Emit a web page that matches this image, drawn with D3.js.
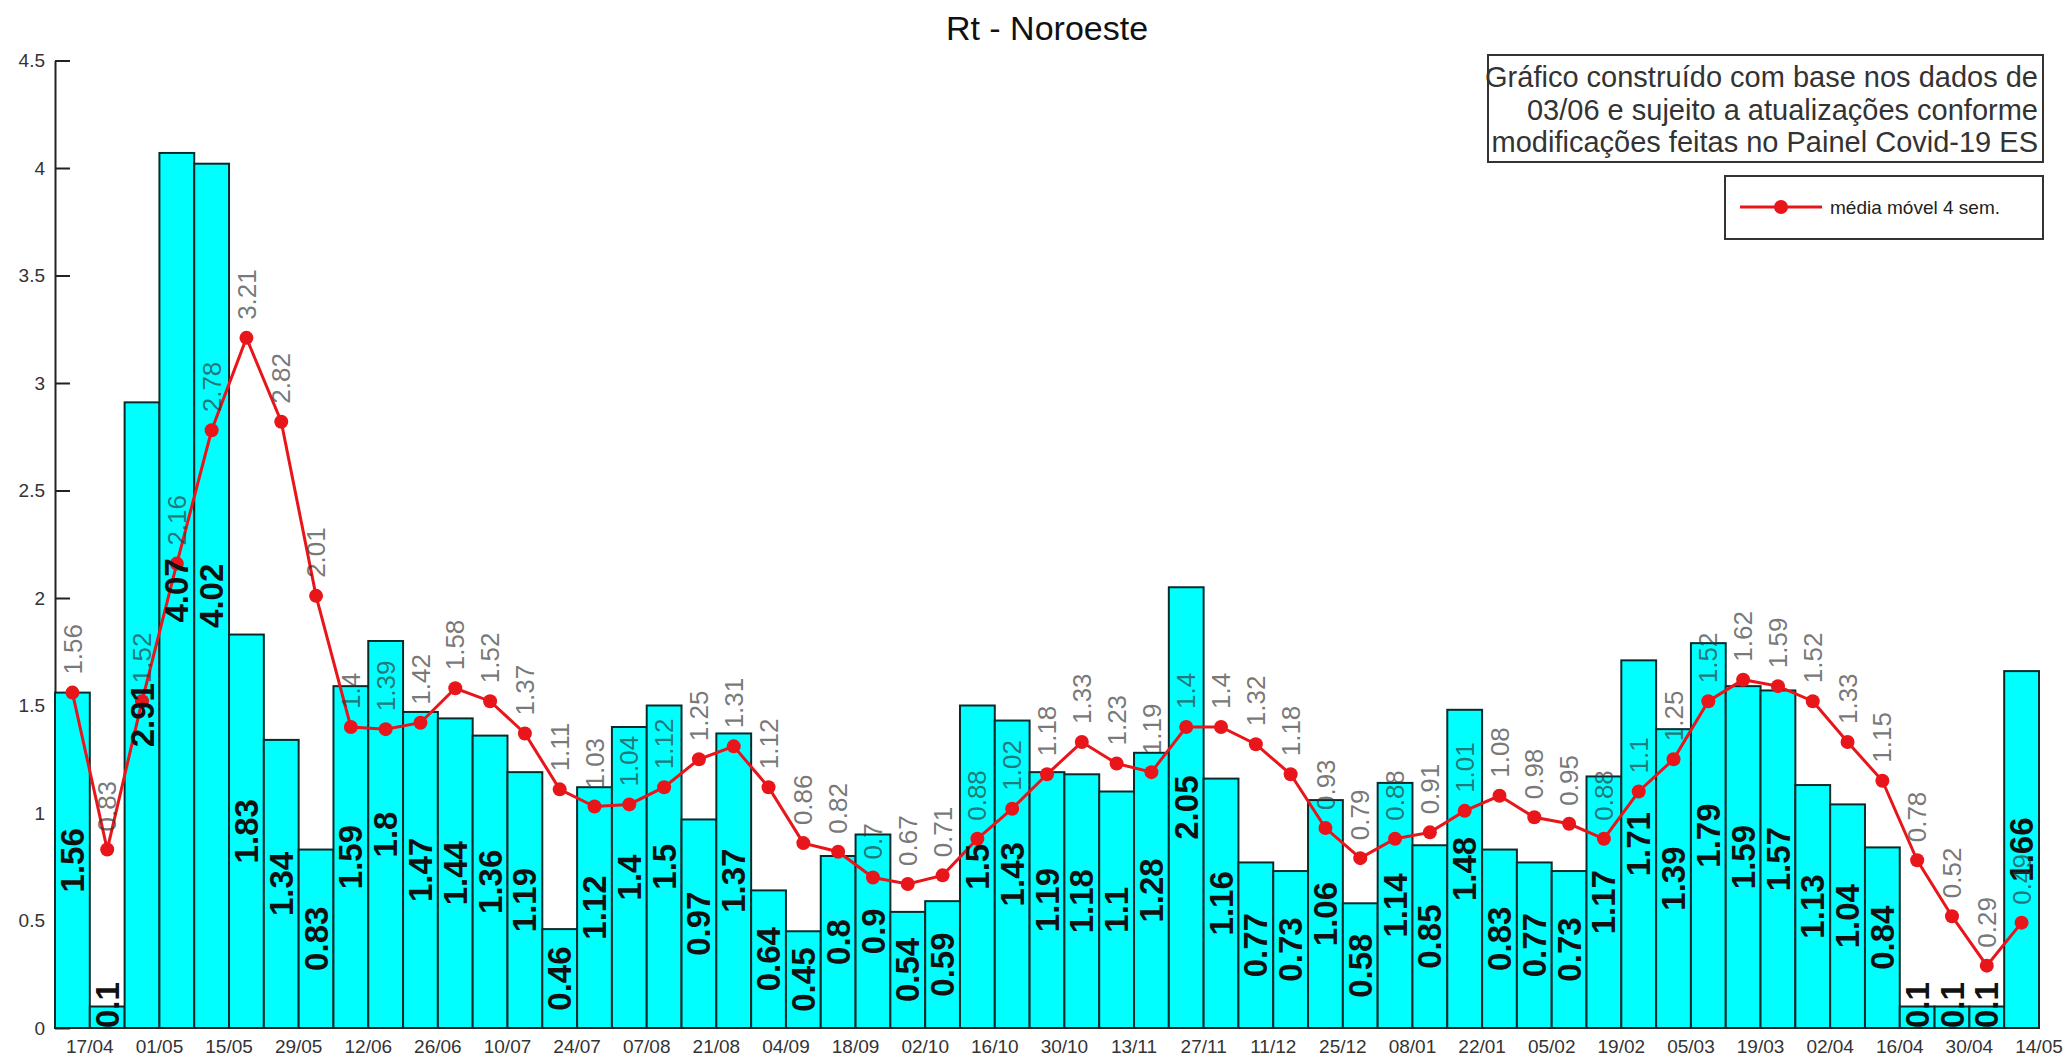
<!DOCTYPE html>
<html>
<head>
<meta charset="utf-8">
<style>
  body { margin: 0; background: #fff; }
  svg { display: block; font-family: "Liberation Sans", Arial, sans-serif; }
  .tick line { stroke: #222; stroke-width: 2px; }
  .yaxis .domain { stroke: #222; stroke-width: 2px; }
  .tick text { fill: #333; font-size: 19px; }
  .bar { fill: #00ffff; stroke: #0b2b2b; stroke-width: 2px; }
  .rline { fill: none; stroke: #e8161a; stroke-width: 3px; }
  .dot { fill: #e8161a; }
  .barlab { font-size: 33px; font-weight: bold; fill: #111; }
  .linelab { font-size: 26px; fill: #333; fill-opacity: 0.68; }
</style>
<script src="https://cdn.jsdelivr.net/npm/d3@7"></script>
</head>
<body>
<script>
// weeks (one bar per week)
var weeks = ["17/04","24/04","01/05","08/05","15/05","22/05","29/05","05/06","12/06","19/06",
  "26/06","03/07","10/07","17/07","24/07","31/07","07/08","14/08","21/08","28/08",
  "04/09","11/09","18/09","25/09","02/10","09/10","16/10","23/10","30/10","06/11",
  "13/11","20/11","27/11","04/12","11/12","18/12","25/12","01/01","08/01","15/01",
  "22/01","29/01","05/02","12/02","19/02","26/02","05/03","12/03","19/03","26/03",
  "02/04","09/04","16/04","23/04","30/04","07/05","14/05"];

// weekly Rt
var rt = [1.56,0.1,2.91,4.07,4.02,1.83,1.34,0.83,1.59,1.8,
  1.47,1.44,1.36,1.19,0.46,1.12,1.4,1.5,0.97,1.37,
  0.64,0.45,0.8,0.9,0.54,0.59,1.5,1.43,1.19,1.18,
  1.1,1.28,2.05,1.16,0.77,0.73,1.06,0.58,1.14,0.85,
  1.48,0.83,0.77,0.73,1.17,1.71,1.39,1.79,1.59,1.57,
  1.13,1.04,0.84,0.1,0.1,0.1,1.66];

// media movel 4 semanas
var media = [1.56,0.83,1.52,2.16,2.78,3.21,2.82,2.01,1.4,1.39,
  1.42,1.58,1.52,1.37,1.11,1.03,1.04,1.12,1.25,1.31,
  1.12,0.86,0.82,0.7,0.67,0.71,0.88,1.02,1.18,1.33,
  1.23,1.19,1.4,1.4,1.32,1.18,0.93,0.79,0.88,0.91,
  1.01,1.08,0.98,0.95,0.88,1.1,1.25,1.52,1.62,1.59,
  1.52,1.33,1.15,0.78,0.52,0.29,0.49];

var xLabels = weeks.filter(function(d, i) { return i % 2 === 0; });
var yTicks = [0,0.5,1,1.5,2,2.5,3,3.5,4,4.5];
var noteLines = ["Gráfico construído com base nos dados de",
  "03/06 e sujeito a atualizações conforme",
  "modificações feitas no Painel Covid-19 ES"];

var W = 2066, H = 1057;
var mLeft = 55, mRight = 2039, mTop = 60.5, mBottom = 1028;

var svg = d3.select("body").append("svg")
  .attr("width", W).attr("height", H);

var x = d3.scaleBand().domain(weeks).range([mLeft, mRight]).padding(0);
var y = d3.scaleLinear().domain([0, 4.5]).range([mBottom, mTop]);
var bw = x.bandwidth();

// title
svg.append("text")
  .attr("x", (mLeft + mRight) / 2).attr("y", 40)
  .attr("text-anchor", "middle")
  .style("font-size", "34px").style("fill", "#111")
  .text("Rt - Noroeste");

// y axis, ticks pointing inward
svg.append("g")
  .attr("class", "yaxis")
  .attr("transform", "translate(" + mLeft + ",0)")
  .call(d3.axisLeft(y).tickValues(yTicks).tickSizeInner(-15).tickSizeOuter(0)
    .tickPadding(10).tickFormat(function(d) { return String(d); }));

// bars
svg.selectAll(".bar")
  .data(rt)
  .enter().append("rect")
  .attr("class", "bar")
  .attr("x", function(d, i) { return x(weeks[i]); })
  .attr("y", function(d) { return y(d); })
  .attr("width", bw)
  .attr("height", function(d) { return y(0) - y(d); });

// x baseline
svg.append("line")
  .attr("x1", mLeft).attr("x2", mRight)
  .attr("y1", mBottom).attr("y2", mBottom)
  .style("stroke", "#222").style("stroke-width", 2);

// x labels sit on the right edge of their bar
var xa = svg.append("g")
  .attr("class", "xaxis")
  .attr("transform", "translate(" + (bw / 2) + "," + mBottom + ")")
  .call(d3.axisBottom(x).tickValues(xLabels).tickSize(0).tickPadding(12));
xa.select(".domain").remove();

// moving average line
var line = d3.line()
  .x(function(d, i) { return x(weeks[i]) + bw / 2; })
  .y(function(d) { return y(d); });

svg.append("path")
  .datum(media)
  .attr("class", "rline")
  .attr("d", line);

svg.selectAll(".dot")
  .data(media)
  .enter().append("circle")
  .attr("class", "dot")
  .attr("cx", function(d, i) { return x(weeks[i]) + bw / 2; })
  .attr("cy", function(d) { return y(d); })
  .attr("r", 7);

// bar value labels, vertical, centred at half height
svg.selectAll(".barlab")
  .data(rt)
  .enter().append("text")
  .attr("class", "barlab")
  .attr("text-anchor", "middle")
  .attr("dy", "0.35em")
  .text(function(d) { return String(d); })
  .each(function(d, i) {
    var len = this.getComputedTextLength();
    var cy = y(d / 2);
    if (cy + len / 2 > mBottom) cy = mBottom - len / 2;
    var cx = x(weeks[i]) + bw / 2;
    d3.select(this).attr("transform", "translate(" + cx + "," + cy + ") rotate(-90)");
  });

// moving average labels above the points
svg.selectAll(".linelab")
  .data(media)
  .enter().append("text")
  .attr("class", "linelab")
  .attr("text-anchor", "start")
  .attr("dy", "0.35em")
  .attr("transform", function(d, i) {
    return "translate(" + (x(weeks[i]) + bw / 2) + "," + (y(d) - 18) + ") rotate(-90)";
  })
  .text(function(d) { return String(d); });

// note box
var note = svg.append("g");
note.append("rect")
  .attr("x", 1488).attr("y", 55).attr("width", 555).attr("height", 107)
  .style("fill", "#fff").style("stroke", "#333").style("stroke-width", 2);
note.selectAll("text")
  .data(noteLines)
  .enter().append("text")
  .attr("x", 2038)
  .attr("y", function(d, i) { return 87 + i * 32.5; })
  .attr("text-anchor", "end")
  .style("font-size", "29px").style("fill", "#333")
  .text(function(d) { return d; });

// legend
var lg = svg.append("g");
lg.append("rect")
  .attr("x", 1725).attr("y", 176).attr("width", 318).attr("height", 63)
  .style("fill", "#fff").style("stroke", "#333").style("stroke-width", 2);
lg.append("line")
  .attr("x1", 1740).attr("x2", 1822).attr("y1", 207).attr("y2", 207)
  .attr("class", "rline");
lg.append("circle")
  .attr("cx", 1781).attr("cy", 207).attr("r", 7).attr("class", "dot");
lg.append("text")
  .attr("x", 1830).attr("y", 214)
  .style("font-size", "19px").style("fill", "#222")
  .text("média móvel 4 sem.");
</script>
</body>
</html>
